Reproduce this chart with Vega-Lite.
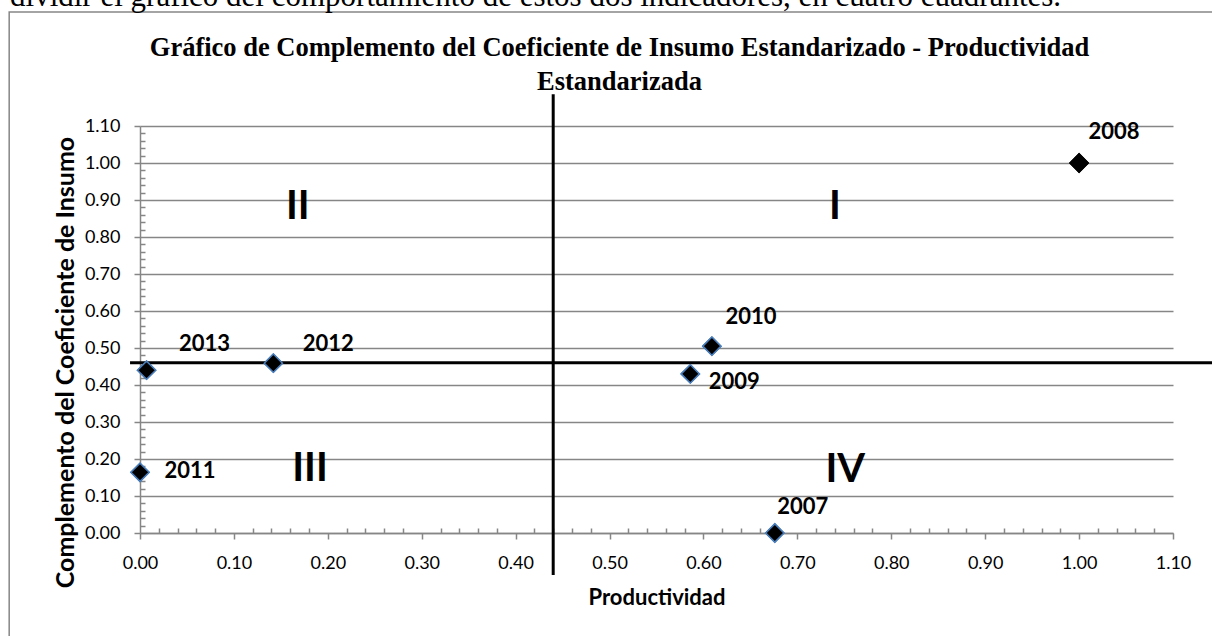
{
  "$schema": "https://vega.github.io/schema/vega-lite/v6.json",
  "autosize": "none",
  "width": 1033,
  "height": 407,
  "padding": {"left": 140, "top": 126, "right": 39, "bottom": 103},
  "background": "white",
  "config": {
    "view": {"stroke": null},
    "axis": {
      "domainColor": "#868686", "domainWidth": 1.5,
      "gridColor": "#868686", "gridWidth": 1.5,
      "tickColor": "#868686", "tickWidth": 1.5,
      "labelColor": "#000000", "labelFont": "Lato", "labelFontSize": 18,
      "titleColor": "#000000", "titleFont": "Lato", "titleFontSize": 22, "titleFontWeight": "bold",
      "labelOverlap": false, "labelFlush": false
    }
  },
  "title": {
    "text": ["Gráfico de Complemento del Coeficiente de Insumo Estandarizado - Productividad", "Estandarizada"],
    "font": "Liberation Serif", "fontSize": 26.5, "fontWeight": "bold", "color": "#000000",
    "lineHeight": 34, "anchor": "middle", "frame": "group", "dx": -37, "offset": -114
  },
  "datasets": {
    "points": [
      {"year": 2007, "productividad": 0.676, "complemento": 0.0},
      {"year": 2008, "productividad": 1.0, "complemento": 1.0},
      {"year": 2009, "productividad": 0.586, "complemento": 0.43},
      {"year": 2010, "productividad": 0.609, "complemento": 0.505},
      {"year": 2011, "productividad": 0.0, "complemento": 0.164},
      {"year": 2012, "productividad": 0.142, "complemento": 0.459},
      {"year": 2013, "productividad": 0.007, "complemento": 0.44}
    ],
    "quadrants": [
      {"label": "I", "qx": 0.74, "qy": 0.881},
      {"label": "II", "qx": 0.168, "qy": 0.881},
      {"label": "III", "qx": 0.181, "qy": 0.172},
      {"label": "IV", "qx": 0.751, "qy": 0.17}
    ],
    "vline": [{"lx": 0.44, "ly1": 1.186, "ly2": -0.1135}],
    "hline": [{"ly": 0.46, "lx1": -0.0106, "lx2": 1.16}],
    "frame": [{"fx1": -0.1393, "fx2": 1.3, "fy1": 1.408, "fy2": -0.5}],
    "note": [{"text": "dividir el gráfico del comportamiento de estos dos indicadores, en cuatro cuadrantes.", "nx": -0.1384, "ny": 1.4243}]
  },
  "layer": [
    {
      "data": {"name": "points"},
      "mark": {"type": "point", "shape": "diamond", "filled": true, "size": 330, "fill": "#000000", "strokeWidth": 1.5, "opacity": 1},
      "encoding": {
        "x": {
          "field": "productividad", "type": "quantitative",
          "scale": {"domain": [0, 1.1], "nice": false, "zero": false},
          "axis": {
            "title": "Productividad",
            "values": [0,0.02,0.04,0.06,0.08,0.1,0.12,0.14,0.16,0.18,0.2,0.22,0.24,0.26,0.28,0.3,0.32,0.34,0.36,0.38,0.4,0.42,0.44,0.46,0.48,0.5,0.52,0.54,0.56,0.58,0.6,0.62,0.64,0.66,0.68,0.7,0.72,0.74,0.76,0.78,0.8,0.82,0.84,0.86,0.88,0.9,0.92,0.94,0.96,0.98,1.0,1.02,1.04,1.06,1.08,1.1],
            "tickCount": 200,
            "labelExpr": "abs(datum.value*10 - round(datum.value*10)) < 0.01 ? format(datum.value, '.2f') : ''",
            "tickSize": {"condition": {"test": "abs(datum.value*10 - round(datum.value*10)) > 0.01", "value": -5}, "value": 6},
            "grid": false,
            "labelPadding": 15,
            "titleY": 64, "titleBaseline": "middle"
          }
        },
        "y": {
          "field": "complemento", "type": "quantitative",
          "scale": {"domain": [0, 1.1], "nice": false, "zero": false},
          "axis": {
            "title": "Complemento del Coeficiente de Insumo",
            "titleFontSize": 25,
            "values": [0,0.02,0.04,0.06,0.08,0.1,0.12,0.14,0.16,0.18,0.2,0.22,0.24,0.26,0.28,0.3,0.32,0.34,0.36,0.38,0.4,0.42,0.44,0.46,0.48,0.5,0.52,0.54,0.56,0.58,0.6,0.62,0.64,0.66,0.68,0.7,0.72,0.74,0.76,0.78,0.8,0.82,0.84,0.86,0.88,0.9,0.92,0.94,0.96,0.98,1.0,1.02,1.04,1.06,1.08,1.1],
            "tickCount": 200,
            "labelExpr": "abs(datum.value*10 - round(datum.value*10)) < 0.01 ? format(datum.value, '.2f') : ''",
            "tickSize": {"condition": {"test": "abs(datum.value*10 - round(datum.value*10)) > 0.01", "value": -5}, "value": 6},
            "gridOpacity": {"condition": {"test": "abs(datum.value*10 - round(datum.value*10)) > 0.01", "value": 0}, "value": 1},
            "labelPadding": 14,
            "titleX": -75, "titleY": 236, "titleBaseline": "middle"
          }
        },
        "stroke": {"condition": {"test": "datum.year == 2008", "value": "#000000"}, "value": "#4a7ebb"}
      }
    },
    {
      "data": {"name": "frame"},
      "mark": {"type": "rect", "filled": false, "stroke": "#868686", "strokeWidth": 1.5},
      "encoding": {
        "x": {"field": "fx1", "type": "quantitative"},
        "x2": {"field": "fx2"},
        "y": {"field": "fy1", "type": "quantitative"},
        "y2": {"field": "fy2"}
      }
    },
    {
      "data": {"name": "note"},
      "mark": {"type": "text", "align": "left", "baseline": "alphabetic", "font": "Liberation Serif", "fontSize": 31, "color": "#000000"},
      "encoding": {
        "x": {"field": "nx", "type": "quantitative"},
        "y": {"field": "ny", "type": "quantitative"},
        "text": {"field": "text"}
      }
    },
    {
      "data": {"name": "vline"},
      "mark": {"type": "rule", "color": "#000000", "strokeWidth": 3},
      "encoding": {
        "x": {"field": "lx", "type": "quantitative"},
        "y": {"field": "ly1", "type": "quantitative"},
        "y2": {"field": "ly2"}
      }
    },
    {
      "data": {"name": "hline"},
      "mark": {"type": "rule", "color": "#000000", "strokeWidth": 3},
      "encoding": {
        "y": {"field": "ly", "type": "quantitative"},
        "x": {"field": "lx1", "type": "quantitative"},
        "x2": {"field": "lx2"}
      }
    },
    {
      "data": {"name": "points"},
      "mark": {"type": "point", "shape": "diamond", "filled": true, "size": 330, "fill": "#000000", "strokeWidth": 1.5, "opacity": 1},
      "encoding": {
        "x": {"field": "productividad", "type": "quantitative"},
        "y": {"field": "complemento", "type": "quantitative"},
        "stroke": {"condition": {"test": "datum.year == 2008", "value": "#000000"}, "value": "#4a7ebb"}
      }
    },
    {
      "data": {"name": "quadrants"},
      "mark": {"type": "text", "font": "Lato", "fontSize": 40, "fontWeight": "bold", "align": "center", "baseline": "middle", "color": "#000000"},
      "encoding": {
        "x": {"field": "qx", "type": "quantitative"},
        "y": {"field": "qy", "type": "quantitative"},
        "text": {"field": "label"}
      }
    },
    {
      "data": {"name": "points"},
      "transform": [{"filter": "datum.year == 2013"}],
      "mark": {"type": "text", "font": "Lato", "fontSize": 22, "fontWeight": "bold", "align": "center", "baseline": "middle", "dx": 58, "dy": -26, "color": "#000000"},
      "encoding": {"x": {"field": "productividad", "type": "quantitative"}, "y": {"field": "complemento", "type": "quantitative"}, "text": {"field": "year", "type": "nominal"}}
    },
    {
      "data": {"name": "points"},
      "transform": [{"filter": "datum.year == 2012"}],
      "mark": {"type": "text", "font": "Lato", "fontSize": 22, "fontWeight": "bold", "align": "center", "baseline": "middle", "dx": 55, "dy": -19, "color": "#000000"},
      "encoding": {"x": {"field": "productividad", "type": "quantitative"}, "y": {"field": "complemento", "type": "quantitative"}, "text": {"field": "year", "type": "nominal"}}
    },
    {
      "data": {"name": "points"},
      "transform": [{"filter": "datum.year == 2011"}],
      "mark": {"type": "text", "font": "Lato", "fontSize": 22, "fontWeight": "bold", "align": "center", "baseline": "middle", "dx": 50, "dy": -1, "color": "#000000"},
      "encoding": {"x": {"field": "productividad", "type": "quantitative"}, "y": {"field": "complemento", "type": "quantitative"}, "text": {"field": "year", "type": "nominal"}}
    },
    {
      "data": {"name": "points"},
      "transform": [{"filter": "datum.year == 2010"}],
      "mark": {"type": "text", "font": "Lato", "fontSize": 22, "fontWeight": "bold", "align": "center", "baseline": "middle", "dx": 39, "dy": -29, "color": "#000000"},
      "encoding": {"x": {"field": "productividad", "type": "quantitative"}, "y": {"field": "complemento", "type": "quantitative"}, "text": {"field": "year", "type": "nominal"}}
    },
    {
      "data": {"name": "points"},
      "transform": [{"filter": "datum.year == 2009"}],
      "mark": {"type": "text", "font": "Lato", "fontSize": 22, "fontWeight": "bold", "align": "center", "baseline": "middle", "dx": 44, "dy": 8, "color": "#000000"},
      "encoding": {"x": {"field": "productividad", "type": "quantitative"}, "y": {"field": "complemento", "type": "quantitative"}, "text": {"field": "year", "type": "nominal"}}
    },
    {
      "data": {"name": "points"},
      "transform": [{"filter": "datum.year == 2007"}],
      "mark": {"type": "text", "font": "Lato", "fontSize": 22, "fontWeight": "bold", "align": "center", "baseline": "middle", "dx": 28, "dy": -26, "color": "#000000"},
      "encoding": {"x": {"field": "productividad", "type": "quantitative"}, "y": {"field": "complemento", "type": "quantitative"}, "text": {"field": "year", "type": "nominal"}}
    },
    {
      "data": {"name": "points"},
      "transform": [{"filter": "datum.year == 2008"}],
      "mark": {"type": "text", "font": "Lato", "fontSize": 22, "fontWeight": "bold", "align": "center", "baseline": "middle", "dx": 35, "dy": -31, "color": "#000000"},
      "encoding": {"x": {"field": "productividad", "type": "quantitative"}, "y": {"field": "complemento", "type": "quantitative"}, "text": {"field": "year", "type": "nominal"}}
    }
  ]
}
